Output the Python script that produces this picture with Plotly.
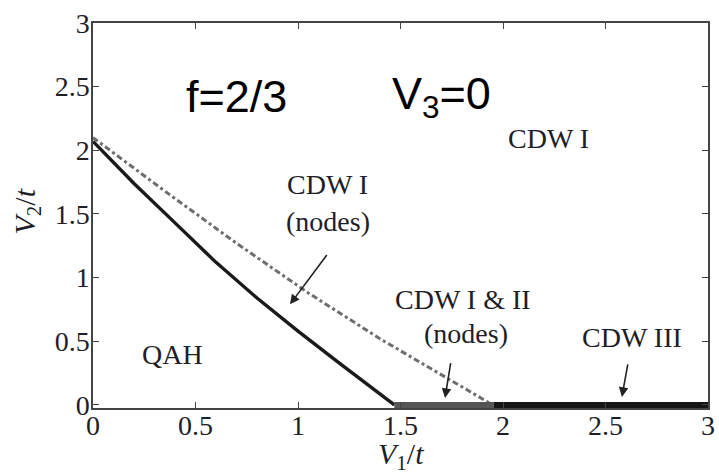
import plotly.graph_objects as go

# Phase boundary: QAH -> CDW I (nodes) (solid)
solid_v1 = [0, 0.2, 0.4, 0.6, 0.8, 1.0, 1.2, 1.47]
solid_v2 = [2.07, 1.74, 1.43, 1.12, 0.84, 0.58, 0.33, 0]
# Boundary: CDW I (nodes) -> CDW I (dash-dot)
dashdot_v1 = [0, 0.35, 0.7, 1.05, 1.4, 1.7, 1.95]
dashdot_v2 = [2.1, 1.68, 1.27, 0.88, 0.52, 0.24, 0]
# Segments on V2 = 0
cdw12_v1 = [1.47, 1.955]
cdw12_v2 = [0, 0]
cdw3_v1 = [1.955, 3]
cdw3_v2 = [0, 0]

tick_vals = [0, 0.5, 1, 1.5, 2, 2.5, 3]
tick_text = ["0", "0.5", "1", "1.5", "2", "2.5", "3"]

serif = "Liberation Serif, Times New Roman, serif"
sans = "Liberation Sans, Arial, sans-serif"
txt = "#1e1e28"

fig = go.Figure()
fig.add_trace(go.Scatter(x=dashdot_v1, y=dashdot_v2, mode="lines",
                         line=dict(color="#6e6e6e", width=3, dash="6px,3px,3px,3px")))
fig.add_trace(go.Scatter(x=solid_v1, y=solid_v2, mode="lines",
                         line=dict(color="#1a1a1a", width=3.4)))
fig.add_trace(go.Scatter(x=cdw12_v1, y=cdw12_v2, mode="lines",
                         line=dict(color="#555555", width=6)))
fig.add_trace(go.Scatter(x=cdw3_v1, y=cdw3_v2, mode="lines",
                         line=dict(color="#151515", width=6)))

ann = []
def label(x, y, text, size=28, font=serif, color=txt, xanchor="center"):
    ann.append(dict(x=x, y=y, xref="x", yref="y", text=text, showarrow=False,
                    font=dict(family=font, size=size, color=color), xanchor=xanchor,
                    yanchor="middle"))

label(0.70, 2.42, "f=2/3", size=45, font=sans, color="black")
label(1.45, 2.42, "V<sub>3</sub>=0", size=45, font=sans, color="black", xanchor="left")
label(2.22, 2.09, "CDW I")
label(1.146, 1.73, "CDW I")
label(1.146, 1.44, "(nodes)")
label(1.805, 0.825, "CDW I &amp; II")
label(1.82, 0.56, "(nodes)")
label(2.63, 0.53, "CDW III")
label(0.39, 0.40, "QAH")

def arrow(x, y, ax, ay):
    ann.append(dict(x=x, y=y, ax=ax, ay=ay, xref="x", yref="y", axref="x", ayref="y",
                    text="", showarrow=True, arrowhead=2, arrowsize=1.2,
                    arrowwidth=1.6, arrowcolor="#222"))

arrow(0.961, 0.79, 1.146, 1.19)
arrow(1.717, 0.055, 1.746, 0.34)
arrow(2.58, 0.063, 2.61, 0.33)

# axis titles
ann.append(dict(x=0.5, y=0, xref="paper", yref="paper", yshift=-48, showarrow=False,
                text="<i>V</i><sub>1</sub>/<i>t</i>", yanchor="middle",
                font=dict(family=serif, size=30, color=txt)))
ann.append(dict(x=0, y=0.5, xref="paper", yref="paper", xshift=-67, yshift=4,
                showarrow=False, textangle=-90, xanchor="center",
                text="<i>V</i><sub>2</sub>/<i>t</i>",
                font=dict(family=serif, size=30, color=txt)))

axis_common = dict(showline=True, linecolor="#444", linewidth=1.5, mirror="ticks",
                   ticks="inside", ticklen=6, tickwidth=1.3, tickcolor="#444",
                   showgrid=False, zeroline=False, automargin=False,
                   tickfont=dict(family=serif, size=28, color=txt),
                   tickvals=tick_vals, ticktext=tick_text)

fig.update_layout(
    width=719, height=475,
    margin=dict(l=93, r=11, t=23, b=67, autoexpand=False),
    paper_bgcolor="white", plot_bgcolor="white",
    showlegend=False,
    annotations=ann,
    xaxis=dict(range=[0, 3], ticklabelstandoff=-8, **axis_common),
    yaxis=dict(range=[-0.024, 3], ticklabelstandoff=-4, **axis_common),
)

fig.write_html("out.html", config={"displayModeBar": False},
               post_script="document.body.style.margin='0';document.body.style.overflow='hidden';")
